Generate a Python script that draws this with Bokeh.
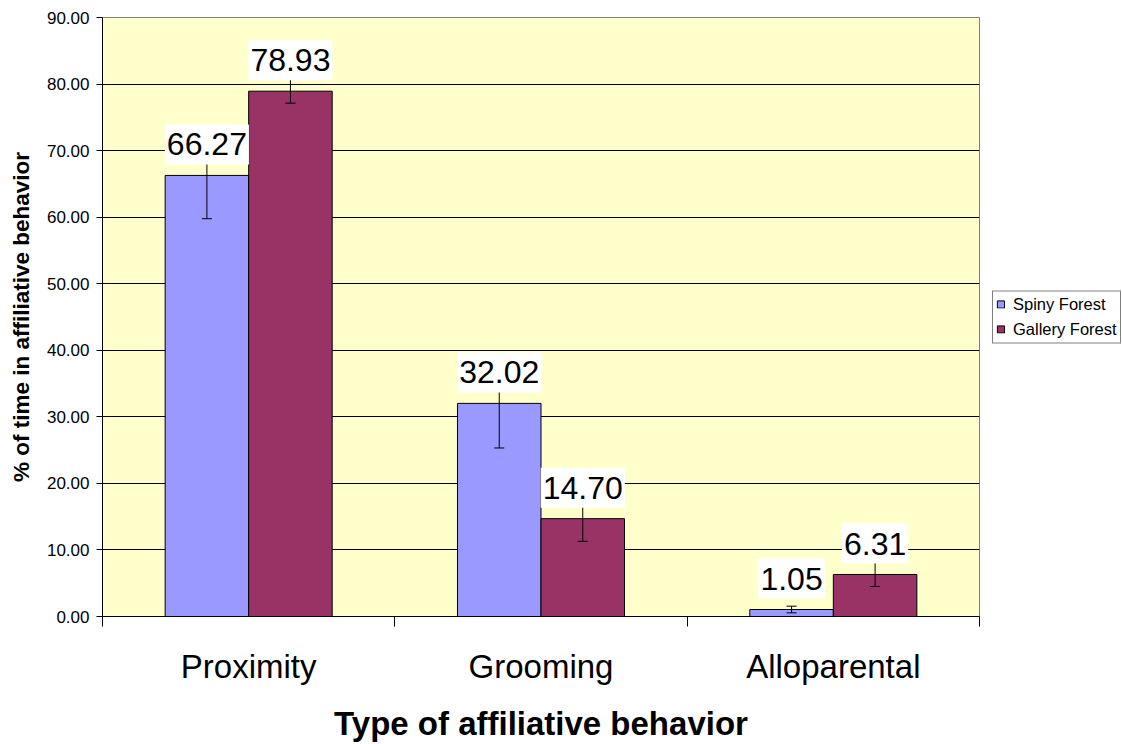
from bokeh.plotting import figure
from bokeh.models import (ColumnDataSource, Whisker, TeeHead, FixedTicker, Text,
                          NumeralTickFormatter, Legend, LegendItem, Range1d)
from bokeh.core.properties import value
from bokeh.embed import file_html
from bokeh.resources import INLINE

# ---- data ----
categories = ["Proximity", "Grooming", "Alloparental"]
series_names = ["Spiny Forest", "Gallery Forest"]
spiny = [66.27, 32.02, 1.05]
gallery = [78.93, 14.70, 6.31]
spiny_err = [6.5, 6.7, 0.5]
gallery_err = [1.8, 3.4, 1.8]
y_ticks = [0, 10, 20, 30, 40, 50, 60, 70, 80, 90]

colors = ["#9999FF", "#993366"]
FONT = "Liberation Sans"

n = len(categories)
bar_w = 1.0 / 3.5
centers = [i + 0.5 for i in range(n)]

p = figure(frame_width=877, frame_height=599, x_range=Range1d(0, n), y_range=Range1d(0, 90),
           output_backend="svg", toolbar_location=None,
           min_border_left=102, min_border_right=143, min_border_top=17, min_border_bottom=128)

p.background_fill_color = "#FFFFCC"
p.border_fill_color = "white"
p.outline_line_color = "#808080"
p.outline_line_width = 1

renderers = []
for k, (vals, errs) in enumerate([(spiny, spiny_err), (gallery, gallery_err)]):
    off = (k - 0.5) * bar_w
    xs = [c + off for c in centers]
    src = ColumnDataSource(dict(
        x=xs, top=vals,
        upper=[v + e for v, e in zip(vals, errs)],
        lower=[v - e for v, e in zip(vals, errs)],
        label=["%.2f" % v for v in vals],
    ))
    r = p.vbar(x="x", top="top", width=bar_w, bottom=0, source=src,
               fill_color=colors[k], line_color="black", line_width=1)
    renderers.append((r, src))

for r, src in renderers:
    w = Whisker(base="x", upper="upper", lower="lower", source=src,
                line_color="black", line_width=1, level="annotation",
                upper_head=TeeHead(size=10, line_color="black", line_width=1),
                lower_head=TeeHead(size=10, line_color="black", line_width=1))
    p.add_layout(w)

# padding of the white label boxes (left/right small, top/bottom larger)
pad = 2
for cand in (dict(left=2, right=2, top=9, bottom=9), (2, 9)):
    try:
        Text(padding=cand)
        pad = cand
        break
    except Exception:
        pass

text_props = Text.properties()
for r, src in renderers:
    kw = {}
    if "padding" in text_props:
        kw["padding"] = pad
    if "background_fill_color" in text_props:
        kw["background_fill_color"] = "white"
    p.text(x="x", y="top", text="label", source=src, y_offset=-31,
           text_align="center", text_baseline="middle",
           text_font=value(FONT), text_font_size=value("32px"), text_color="black",
           level="overlay", **kw)

# grid
p.xgrid.grid_line_color = None
p.ygrid.ticker = FixedTicker(ticks=y_ticks)
p.ygrid.grid_line_color = "black"
p.ygrid.grid_line_width = 1

# y axis
ya = p.yaxis[0]
ya.ticker = FixedTicker(ticks=y_ticks)
ya.formatter = NumeralTickFormatter(format="0.00")
ya.axis_line_color = "black"
ya.major_tick_line_color = "black"
ya.major_tick_in = 0
ya.major_tick_out = 6
ya.minor_tick_line_color = None
ya.major_label_standoff = 7
ya.major_label_text_font = FONT
ya.major_label_text_font_size = "17px"
ya.major_label_text_color = "black"
ya.axis_label = "% of time in affiliative behavior"
ya.axis_label_text_font = FONT
ya.axis_label_text_font_size = "22.5px"
ya.axis_label_text_font_style = "bold"
ya.axis_label_text_color = "black"
ya.axis_label_standoff = 10

# x axis
xa = p.xaxis[0]
xa.ticker = FixedTicker(ticks=centers, minor_ticks=list(range(n + 1)))
xa.major_label_overrides = {c: name for c, name in zip(centers, categories)}
xa.axis_line_color = "black"
xa.major_tick_line_color = None
xa.major_tick_in = 0
xa.major_tick_out = 0
xa.minor_tick_line_color = "black"
xa.minor_tick_in = 0
xa.minor_tick_out = 10
xa.major_label_standoff = 21
xa.major_label_text_font = FONT
xa.major_label_text_font_size = "33px"
xa.major_label_text_color = "black"
xa.axis_label = "Type of affiliative behavior"
xa.axis_label_text_font = FONT
xa.axis_label_text_font_size = "33px"
xa.axis_label_text_font_style = "bold"
xa.axis_label_text_color = "black"
xa.axis_label_standoff = 17

legend = Legend(items=[LegendItem(label=series_names[i], renderers=[renderers[i][0]]) for i in range(2)],
                location="center_left")
legend.border_line_color = "black"
legend.border_line_width = 1
legend.background_fill_color = "white"
legend.background_fill_alpha = 1.0
legend.label_text_font = FONT
legend.label_text_font_size = "16.5px"
legend.label_text_color = "black"
legend.glyph_width = 9
legend.glyph_height = 9
legend.label_height = 20
legend.label_standoff = 8
legend.spacing = 5
legend.padding = 3
legend.margin = 13
p.add_layout(legend, "right")

open("out.html", "w").write(file_html(p, INLINE))
